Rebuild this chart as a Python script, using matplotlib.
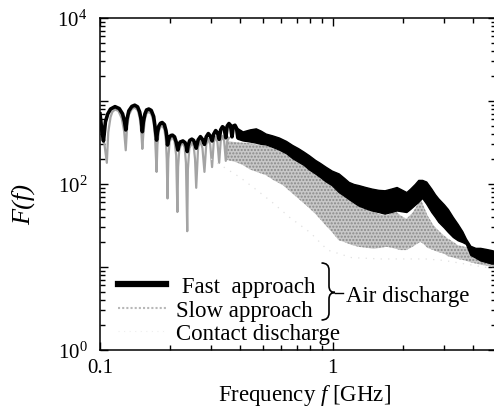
import matplotlib
matplotlib.use("Agg")
import matplotlib.pyplot as plt
from matplotlib.lines import Line2D
from matplotlib.path import Path
from matplotlib.patches import PathPatch
from matplotlib.ticker import FixedLocator, NullFormatter, LogLocator

plt.rcParams['font.family'] = ['Liberation Serif', 'DejaVu Serif']
plt.rcParams['mathtext.fontset'] = 'custom'
plt.rcParams['mathtext.rm'] = 'Liberation Serif'
plt.rcParams['mathtext.it'] = 'Liberation Serif:italic'
plt.rcParams['hatch.linewidth'] = 1.0

# ---------------- data ----------------
# Fast approach: low-frequency lobes (line) + high-frequency noisy band
fast_lobe_f = [0.100, 0.1018, 0.1035, 0.1055, 0.108, 0.111, 0.116, 0.121, 0.125, 0.1275,
               0.129, 0.1305, 0.133, 0.137, 0.141, 0.145, 0.148, 0.1505, 0.152, 0.1535,
               0.156, 0.1585, 0.162, 0.166, 0.170, 0.1725, 0.175, 0.1765, 0.179, 0.182,
               0.185, 0.189, 0.192, 0.1935, 0.195, 0.1965, 0.199, 0.202, 0.205, 0.209,
               0.2125, 0.216, 0.218, 0.221, 0.227, 0.232, 0.2345, 0.237, 0.239, 0.243,
               0.248, 0.2525, 0.256, 0.259, 0.264, 0.270, 0.2755, 0.281, 0.286, 0.292,
               0.2975, 0.303, 0.308, 0.314, 0.3195, 0.325, 0.330, 0.336, 0.3415, 0.347,
               0.352, 0.358, 0.3635, 0.369, 0.374, 0.380, 0.386, 0.391, 0.400]
fast_lobe_v = [700, 450, 330, 560, 700, 800, 855, 810, 700, 560,
               448, 600, 760, 860, 890, 850, 740, 580, 427, 560,
               700, 780, 800, 770, 650, 480, 338, 420, 500, 540,
               550, 520, 440, 380, 295, 330, 370, 385, 387, 370,
               320, 257, 290, 320, 330, 315, 290, 246, 290, 335,
               347, 335, 300, 270, 340, 372, 345, 300, 370, 405,
               380, 330, 400, 440, 415, 345, 450, 490, 470, 360,
               500, 535, 510, 370, 500, 510, 470, 360, 420]

fast_band_f = [0.39, 0.41, 0.44, 0.467, 0.49, 0.515, 0.55, 0.587, 0.63, 0.67,
               0.71, 0.75, 0.79, 0.84, 0.88, 0.93, 0.99, 1.06, 1.12, 1.17,
               1.23, 1.29, 1.38, 1.47, 1.57, 1.67, 1.78, 1.88, 1.97, 2.07,
               2.15, 2.25, 2.33, 2.42, 2.52, 2.65, 2.75, 2.84, 3.0, 3.12,
               3.28, 3.44, 3.6, 3.73, 3.9, 4.1, 4.3, 4.55, 4.8, 5.0]
fast_upper = [470, 430, 455, 468, 440, 405, 385, 363, 330, 295,
              270, 245, 222, 195, 180, 162, 145, 134, 118, 106,
              100, 97, 92, 88, 85, 84, 88, 92, 86, 80,
              88, 100, 112, 112, 107, 88, 75, 67, 57, 50,
              40, 33, 27, 22, 18, 17, 17, 16.5, 16, 15.5]
fast_lower = [350, 335, 325, 315, 305, 300, 280, 260, 235, 205,
              186, 170, 150, 134, 122, 108, 97, 80, 72, 66,
              60, 55, 51, 48, 46, 44, 46, 48, 47, 46,
              50, 56, 61, 68, 58, 46, 40, 35, 30, 26.5,
              23, 21, 20, 19, 14, 13, 12, 11.5, 11, 11]

# Slow approach: low-frequency lobes (line) + noisy band
slow_lobe_f = [0.100, 0.1025, 0.1045, 0.107, 0.1085, 0.111, 0.113, 0.116, 0.120, 0.124,
               0.127, 0.129, 0.1305, 0.133, 0.137, 0.141, 0.145, 0.148, 0.1505, 0.152,
               0.1535, 0.156, 0.1585, 0.162, 0.166, 0.170, 0.1725, 0.175, 0.1765, 0.179,
               0.182, 0.185, 0.189, 0.192, 0.1935, 0.195, 0.1965, 0.199, 0.202, 0.205,
               0.209, 0.2125, 0.215, 0.2165, 0.219, 0.223, 0.227, 0.231, 0.234, 0.237,
               0.2385, 0.242, 0.248, 0.2525, 0.256, 0.259, 0.264, 0.270, 0.2755, 0.281,
               0.286, 0.292, 0.2975, 0.303, 0.308, 0.314, 0.3195, 0.325, 0.330, 0.336,
               0.3415, 0.347, 0.352, 0.358]
slow_lobe_v = [560, 380, 300, 180, 420, 640, 740, 790, 760, 620,
               430, 255, 450, 680, 800, 830, 780, 640, 420, 265,
               400, 610, 710, 740, 700, 560, 360, 140, 300, 440,
               490, 500, 460, 330, 200, 67, 200, 320, 355, 360,
               330, 220, 46, 160, 260, 300, 305, 280, 180, 27,
               150, 270, 310, 290, 200, 90, 280, 330, 270, 140,
               300, 350, 300, 160, 320, 370, 320, 180, 330, 380,
               330, 190, 330, 360]

slow_band_f = [0.35, 0.38, 0.41, 0.44, 0.47, 0.515, 0.56, 0.61, 0.66, 0.71,
               0.77, 0.84, 0.92, 0.99, 1.06, 1.12, 1.2, 1.29, 1.4, 1.5,
               1.6, 1.7, 1.8, 1.88, 1.95, 2.07, 2.2, 2.3, 2.38, 2.45,
               2.55, 2.7, 2.84, 3.0, 3.12, 3.3, 3.44, 3.7, 3.9, 4.3, 4.6, 5.0]
slow_upper = [330, 320, 315, 310, 300, 290, 265, 243, 210, 186,
              160, 134, 112, 97, 80, 75, 64, 55, 50, 46,
              43, 42, 45, 46, 42, 38, 45, 55, 68, 55,
              42, 32, 27.6, 24, 22, 20, 18.3, 17.5, 16.6, 16, 15.3, 15]
slow_lower = [195, 185, 170, 150, 140, 128, 110, 97, 80, 67,
              55, 44, 33, 26.5, 21, 20, 18.5, 17.5, 17, 16.6,
              17, 17.5, 17, 16.5, 16, 16, 17.5, 19, 20, 19,
              17, 16, 15.1, 14.5, 13.5, 13, 12.5, 12, 11.4, 10.7, 10.3, 10]

# Contact discharge (very faint trace)
contact_f = [0.3, 0.4, 0.47, 0.55, 0.65, 0.8, 0.95, 1.2, 1.6, 2.0, 2.5, 3.0, 4.0, 5.0]
contact_v = [200, 120, 85, 60, 40, 26, 16, 13, 12.5, 12.5, 12.5, 12, 10.5, 9.5]

x_ticks = [0.1, 1]
x_tick_labels = ['0.1', '1']
y_ticks = [1, 10, 100, 1000, 10000]
y_tick_labels = [r'$\mathregular{10^{0}}$', '', r'$\mathregular{10^{2}}$', '', r'$\mathregular{10^{4}}$']

series_labels = [' Fast  approach', 'Slow approach', 'Contact discharge']

# ---------------- figure ----------------
W, H = 494, 410
fig = plt.figure(figsize=(W / 100, H / 100), dpi=100)
ax = fig.add_axes([100 / W, 1 - 351 / H, 395.5 / W, 332 / H])

slow_col = '#a4a4a4'
# slow approach
ax.fill_between(slow_band_f, slow_lower, slow_upper, facecolor='#c8c8c8',
                edgecolor='#8a8a8a', hatch='.....', linewidth=0)
ax.plot(slow_lobe_f, slow_lobe_v, color=slow_col, lw=1.6)
# contact discharge
ax.plot(contact_f, contact_v, color='#e0e0e0', lw=0.9, ls=(0, (1, 5)))
# fast approach
ax.fill_between(fast_band_f, fast_lower, fast_upper, facecolor='black', edgecolor='black', linewidth=1.0)
ax.plot(fast_lobe_f, fast_lobe_v, color='black', lw=2.6, solid_joinstyle='round')

ax.set_xscale('log')
ax.set_yscale('log')
ax.set_xlim(0.1, 5.0)
ax.set_ylim(1, 1e4)

ax.xaxis.set_major_locator(FixedLocator(x_ticks))
ax.set_xticklabels(x_tick_labels)
ax.xaxis.set_minor_locator(LogLocator(base=10, subs=range(2, 10)))
ax.xaxis.set_minor_formatter(NullFormatter())
ax.yaxis.set_major_locator(FixedLocator(y_ticks))
ax.set_yticklabels(y_tick_labels)
ax.yaxis.set_minor_locator(LogLocator(base=10, subs=range(2, 10)))
ax.yaxis.set_minor_formatter(NullFormatter())

ax.tick_params(which='both', direction='in', top=True, right=True, width=1.0)
ax.tick_params(which='major', length=5.5)
ax.tick_params(which='minor', length=3.3)
ax.tick_params(axis='x', which='major', labelsize=15, pad=6)
ax.tick_params(axis='y', which='major', labelsize=15, pad=9)
for s in ax.spines.values():
    s.set_linewidth(1.1)

ax.set_xlabel(r'Frequency $\mathit{f}$ [GHz]', fontsize=16.5)
ax.xaxis.set_label_coords(0.516, -0.095)
ax.set_ylabel('F(f)', fontsize=19, style='italic')
ax.yaxis.set_label_coords(-0.165, 0.44)

# legend
handles = [Line2D([], [], color='black', lw=4.5),
           Line2D([], [], color='#b8b8b8', lw=1.5, ls=(0, (1, 1))),
           Line2D([], [], color='#eeeeee', lw=0.8, ls=(0, (1, 4)))]
leg = ax.legend(handles, series_labels, loc='lower left', bbox_to_anchor=(0.0455, 0.018),
                frameon=False, fontsize=16.5, handlelength=2.1, handletextpad=0.44,
                labelspacing=0.1, borderpad=0, borderaxespad=0)

# brace + "Air discharge"
def fp(px, py):
    return (px / W, 1 - py / H)

verts = [fp(321.5, 264), fp(329, 264), fp(329, 271),
         fp(329, 287),
         fp(329, 293.5), fp(335, 293.5),
         fp(329, 293.5), fp(329, 300),
         fp(329, 314),
         fp(329, 321), fp(321.5, 321)]
codes = [Path.MOVETO, Path.CURVE3, Path.CURVE3,
         Path.LINETO,
         Path.CURVE3, Path.CURVE3,
         Path.CURVE3, Path.CURVE3,
         Path.LINETO,
         Path.CURVE3, Path.CURVE3]
brace = PathPatch(Path(verts, codes), transform=fig.transFigure, fill=False,
                  edgecolor='black', lw=1.2)
fig.patches.append(brace)
fig.add_artist(Line2D([fp(335, 0)[0], fp(343, 0)[0]], [fp(0, 293.5)[1]] * 2,
                      transform=fig.transFigure, color='black', lw=1.0))
fig.text(*fp(346, 301.7), 'Air discharge', fontsize=16.5, va='baseline', ha='left')

fig.savefig('out.png', dpi=100)
